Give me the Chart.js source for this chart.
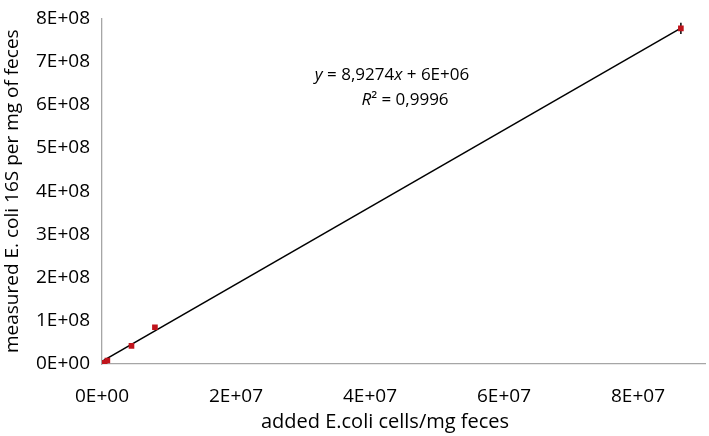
<!DOCTYPE html>
<html>
<head>
<meta charset="utf-8">
<script src="https://cdn.jsdelivr.net/npm/chart.js@4"></script>
<style>
  html, body { margin: 0; padding: 0; background: #fff; }
  #wrap { width: 709px; height: 436px; }
</style>
</head>
<body>
<div id="wrap"><canvas id="myChart" width="709" height="436"></canvas></div>
<script>
// measured points (added cells vs measured 16S)
const addedCells = [0, 4e5, 8e5, 4.4e6, 7.9e6, 8.64e7];
const measured16S = [0, 3e6, 8e6, 4.2e7, 8.5e7, 7.77e8];
// trendline y = 8.9274x + 6E+06
const trendX = [0, 8.64e7];
const trendY = [6e6, 8.9274 * 8.64e7 + 6e6];
// error bar on the last point
const errX = [8.64e7, 8.64e7];
const errY = [7.64e8, 7.90e8];
const xTicks = [0, 2e7, 4e7, 6e7, 8e7];
const xTitle = 'added E.coli cells/mg feces';
const yTitle = 'measured E. coli 16S per mg of feces';
const eqLine1 = ['y', ' = 8,9274', 'x', ' + 6E+06'];
const eqLine2 = ['R', '² = 0,9996'];

const FONT = "'Open Sans', 'Liberation Sans', sans-serif";

function sci(v) {
    const s = Number(v).toExponential(0).split('e');
    let exp = parseInt(s[1], 10);
    const sign = exp < 0 ? '-' : '+';
    exp = Math.abs(exp);
    return s[0] + 'E' + sign + (exp < 10 ? '0' + exp : exp);
}

// equation text (italic variables) and the x axis title, centred like the original
const textPlugin = {
    id: 'texts',
    afterDatasetsDraw(chart) {
        const ctx = chart.ctx;
        const drawParts = (parts, cx, cy) => {
            const fonts = parts.map((p, i) => (i % 2 === 0 ? 'italic ' : '') + '17px ' + FONT);
            let total = 0;
            const widths = parts.map((p, i) => { ctx.font = fonts[i]; const w = ctx.measureText(p).width; total += w; return w; });
            let x = cx - total / 2;
            parts.forEach((p, i) => {
                ctx.font = fonts[i];
                ctx.fillText(p, x, cy);
                x += widths[i];
            });
        };
        ctx.save();
        ctx.fillStyle = '#000';
        ctx.textBaseline = 'middle';
        ctx.textAlign = 'left';
        drawParts(eqLine1, 392, 75);
        drawParts(eqLine2, 405, 100);
        ctx.textAlign = 'center';
        ctx.font = '20px ' + FONT;
        ctx.fillText(xTitle, 385, 422);
        ctx.restore();
    }
};

const ctx = document.getElementById('myChart');
new Chart(ctx, {
    type: 'scatter',
    data: {
        datasets: [
            {
                label: 'trend',
                type: 'line',
                data: trendX.map((x, i) => ({ x: x, y: trendY[i] })),
                borderColor: '#000',
                borderWidth: 1.5,
                pointRadius: 0,
                fill: false,
                order: 2
            },
            {
                label: 'err',
                type: 'line',
                data: errX.map((x, i) => ({ x: x, y: errY[i] })),
                borderColor: '#000',
                borderWidth: 1.5,
                pointRadius: 0,
                fill: false,
                order: 3
            },
            {
                label: 'measured',
                data: addedCells.map((x, i) => ({ x: x, y: measured16S[i] })),
                pointStyle: 'rect',
                pointRadius: 4,
                backgroundColor: '#c0141c',
                borderColor: '#c0141c',
                borderWidth: 0,
                order: 1
            }
        ]
    },
    options: {
        responsive: false,
        animation: false,
        layout: { padding: { top: 13, right: 3, left: 0, bottom: 0 } },
        plugins: {
            legend: { display: false },
            tooltip: { enabled: false }
        },
        scales: {
            x: {
                type: 'linear',
                min: 0,
                max: 9e7,
                afterBuildTicks(scale) { scale.ticks = xTicks.map(v => ({ value: v })); },
                ticks: {
                    color: '#000',
                    font: { family: FONT, size: 19 },
                    padding: 16,
                    maxRotation: 0,
                    autoSkip: false,
                    callback: v => sci(v)
                },
                grid: { display: false, drawOnChartArea: false, drawTicks: true, tickLength: 5, color: '#a6a6a6' },
                border: { color: '#a6a6a6', width: 1.3 },
                title: { display: false },
                afterFit(scale) { scale.height = 72; }
            },
            y: {
                min: 0,
                max: 8e8,
                ticks: {
                    stepSize: 1e8,
                    color: '#000',
                    font: { family: FONT, size: 19 },
                    padding: 7,
                    callback: v => sci(v)
                },
                grid: { display: false, drawOnChartArea: false, drawTicks: true, tickLength: 5, color: '#a6a6a6' },
                border: { color: '#a6a6a6', width: 1.3 },
                title: {
                    display: true,
                    text: yTitle,
                    color: '#000',
                    font: { family: FONT, size: 19 },
                    padding: { top: 1, bottom: 0 }
                },
                afterFit(scale) { scale.width = 102; }
            }
        }
    },
    plugins: [textPlugin]
});
</script>
</body>
</html>
